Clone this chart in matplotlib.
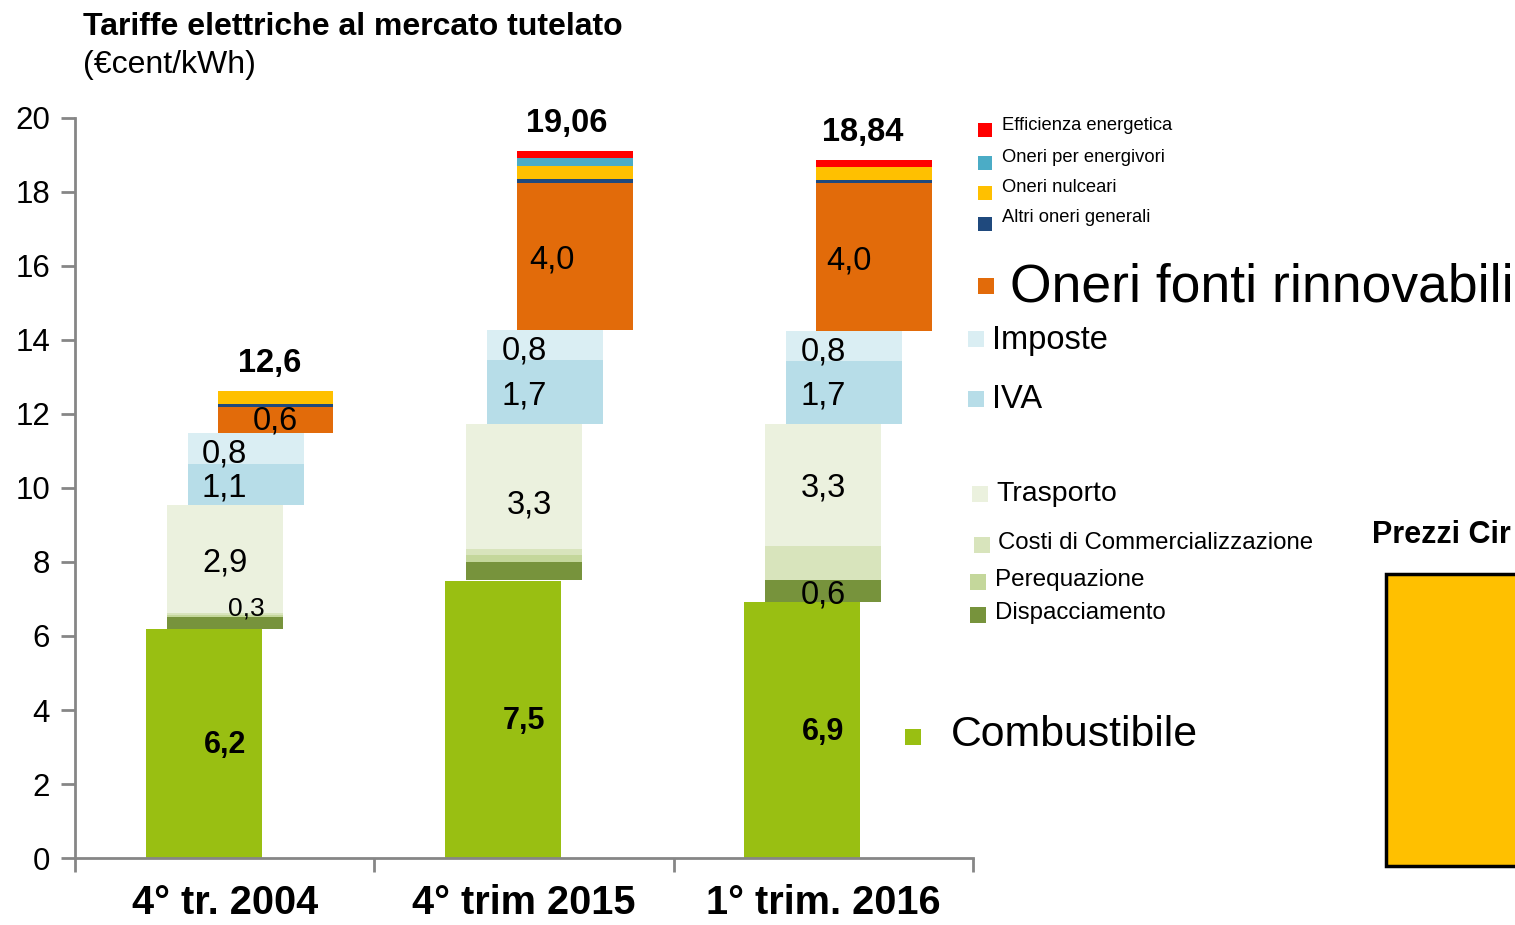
import matplotlib

matplotlib.use("Agg")
import matplotlib.pyplot as plt  # noqa: E402
from matplotlib.patches import Rectangle  # noqa: E402
import numpy as np  # noqa: E402

plt.rcParams["font.family"] = ["Liberation Sans", "DejaVu Sans"]

W, H = 1515, 925

categories = ["4° tr. 2004", "4° trim 2015", "1° trim. 2016"]
totals = ["12,6", "19,06", "18,84"]

# stack components (€cent/kWh), bottom to top
combustibile = [6.20, 7.50, 6.92]
dispacciamento = [0.32, 0.50, 0.60]
perequazione = [0.04, 0.20, 0.00]
commercializzazione = [0.06, 0.16, 0.92]
trasporto = [2.92, 3.37, 3.29]
iva = [1.10, 1.73, 1.70]
imposte = [0.84, 0.81, 0.81]
fonti_rinnovabili = [0.72, 3.97, 4.00]
altri_oneri = [0.08, 0.10, 0.08]
oneri_nucleari = [0.34, 0.35, 0.35]
energivori = [0.00, 0.22, 0.00]
efficienza = [0.00, 0.19, 0.19]

# value labels
lab_comb = ["6,2", "7,5", "6,9"]
lab_disp = ["0,3", "", "0,6"]
lab_trasp = ["2,9", "3,3", "3,3"]
lab_iva = ["1,1", "1,7", "1,7"]
lab_imposte = ["0,8", "0,8", "0,8"]
lab_fonti = ["0,6", "4,0", "4,0"]

C = {
    "comb": "#99BF12", "disp": "#77933C", "pereq": "#C4D79B",
    "comm": "#D8E4BC", "trasp": "#EBF1DE", "iva": "#B7DDE8",
    "imp": "#DAEEF3", "fonti": "#E26B0A", "altri": "#1F497D",
    "nucl": "#FFC000", "energ": "#4BACC6", "eff": "#FF0000",
}

fig = plt.figure(figsize=(W / 100, H / 100), dpi=100)
ax = fig.add_axes([75 / W, 1 - 858 / H, (973 - 75) / W, (858 - 118) / H])

x = np.arange(len(categories))
bw = 0.387
off_comb, off_mid, off_tax, off_oneri = -0.07, 0.0, 0.07, 0.17

bottom = np.zeros(3)
groups = [
    (combustibile, off_comb, C["comb"]),
    (dispacciamento, off_mid, C["disp"]),
    (perequazione, off_mid, C["pereq"]),
    (commercializzazione, off_mid, C["comm"]),
    (trasporto, off_mid, C["trasp"]),
    (iva, off_tax, C["iva"]),
    (imposte, off_tax, C["imp"]),
    (fonti_rinnovabili, off_oneri, C["fonti"]),
    (altri_oneri, off_oneri, C["altri"]),
    (oneri_nucleari, off_oneri, C["nucl"]),
    (energivori, off_oneri, C["energ"]),
    (efficienza, off_oneri, C["eff"]),
]
bottoms = []
for vals, off, col in groups:
    vals = np.array(vals)
    ax.bar(x + off, vals, bw, bottom=bottom, color=col, linewidth=0)
    bottoms.append(bottom.copy())
    bottom = bottom + vals
tops = bottom

b = {name: bottoms[i] for i, name in enumerate(
    ["comb", "disp", "pereq", "comm", "trasp", "iva", "imp",
     "fonti", "altri", "nucl", "energ", "eff"])}

fs = 23.5
for i in range(3):
    ax.text(x[i], combustibile[i] / 2 - 0.05, lab_comb[i], ha="center",
            va="center", fontsize=22, fontweight="bold")
    if lab_disp[i]:
        dx = 0.073 if i == 0 else 0.0
        dy = 6.73 if i == 0 else b["disp"][i] + dispacciamento[i] / 2 - 0.1
        ax.text(x[i] + dx, dy, lab_disp[i], ha="center", va="center",
                fontsize=19 if i == 0 else fs)
    tx = 0.017 if i == 1 else 0.0
    ty = [7.97, 9.54, 10.0][i]
    ax.text(x[i] + tx, ty, lab_trasp[i], ha="center", va="center", fontsize=fs)
    ax.text(x[i], b["iva"][i] + iva[i] / 2 - 0.1, lab_iva[i], ha="center",
            va="center", fontsize=fs)
    ax.text(x[i], b["imp"][i] + imposte[i] / 2 - 0.15, lab_imposte[i],
            ha="center", va="center", fontsize=fs)
    fx = [0.17, 0.093, 0.087][i]
    fy = [11.81, 16.16, 16.13][i]
    ax.text(x[i] + fx, fy, lab_fonti[i], ha="center", va="center", fontsize=fs)
    kx = [0.15, 0.143, 0.133][i]
    ax.text(x[i] + kx, tops[i] + 0.75, totals[i], ha="center", va="center",
            fontsize=23.5, fontweight="bold")

ax.set_xlim(-0.5, 2.5)
ax.set_ylim(0, 20)
ax.set_yticks(np.arange(0, 21, 2))
ax.set_xticks([-0.5, 0.5, 1.5, 2.5])
ax.set_xticklabels([])
ax.set_xticks(x, minor=True)
ax.set_xticklabels(categories, minor=True, fontsize=28.5, fontweight="bold")
ax.tick_params(axis="x", which="minor", length=0, pad=19)
ax.tick_params(axis="x", which="major", length=10, width=2, color="#868686")
ax.tick_params(axis="y", length=10, width=2, color="#868686", labelsize=22.5,
               pad=8)
for s in ["top", "right"]:
    ax.spines[s].set_visible(False)
for s in ["left", "bottom"]:
    ax.spines[s].set_color("#868686")
    ax.spines[s].set_linewidth(2)


def px(xp, yp):
    return xp / W, 1 - yp / H


# title
fig.text(*px(83, 27), "Tariffe elettriche al mercato tutelato", fontsize=23,
         fontweight="bold", va="center", ha="left")
fig.text(*px(83, 65), "(€cent/kWh)", fontsize=23, va="center", ha="left")

# hand-placed legend
legend_items = [
    ("Efficienza energetica", C["eff"], 985, 130, 14, 1002, 125, 13.2),
    ("Oneri per energivori", C["energ"], 985, 163, 14, 1002, 158, 13.2),
    ("Oneri nulceari", C["nucl"], 985, 193, 14, 1002, 188, 13.2),
    ("Altri oneri generali", C["altri"], 985, 224, 14, 1002, 218, 13.2),
    ("Oneri fonti rinnovabili", C["fonti"], 986, 286, 16, 1010, 287, 38.5),
    ("Imposte", C["imp"], 976, 339, 16, 992, 340, 23.5),
    ("IVA", C["iva"], 976, 399, 16, 992, 400, 23.5),
    ("Trasporto", C["trasp"], 980, 494, 16, 996, 494, 20.5),
    ("Costi di Commercializzazione", C["comm"], 982, 545, 16, 998, 543, 17.3),
    ("Perequazione", C["pereq"], 978, 582, 16, 995, 580, 17.5),
    ("Dispacciamento", C["disp"], 978, 615, 16, 995, 613, 17.3),
    ("Combustibile", C["comb"], 913, 737, 16, 951, 735, 30.8),
]
for label, col, sx, sy, ss, tx, ty, tfs in legend_items:
    x0, y0 = px(sx - ss / 2, sy + ss / 2)
    fig.add_artist(Rectangle((x0, y0), ss / W, ss / H, transform=fig.transFigure,
                             facecolor=col, edgecolor="none"))
    fig.text(*px(tx, ty), label, fontsize=tfs, va="center", ha="left")

# cut-off panel on the right edge
fig.text(*px(1372, 535), "Prezzi Cir", fontsize=22, fontweight="bold",
         va="center", ha="left")
x0, y0 = px(1386, 866)
fig.add_artist(Rectangle((x0, y0), 200 / W, (866 - 574) / H,
                         transform=fig.transFigure, facecolor="#FFC000",
                         edgecolor="black", linewidth=2.5))

fig.savefig("out.png", dpi=100)
